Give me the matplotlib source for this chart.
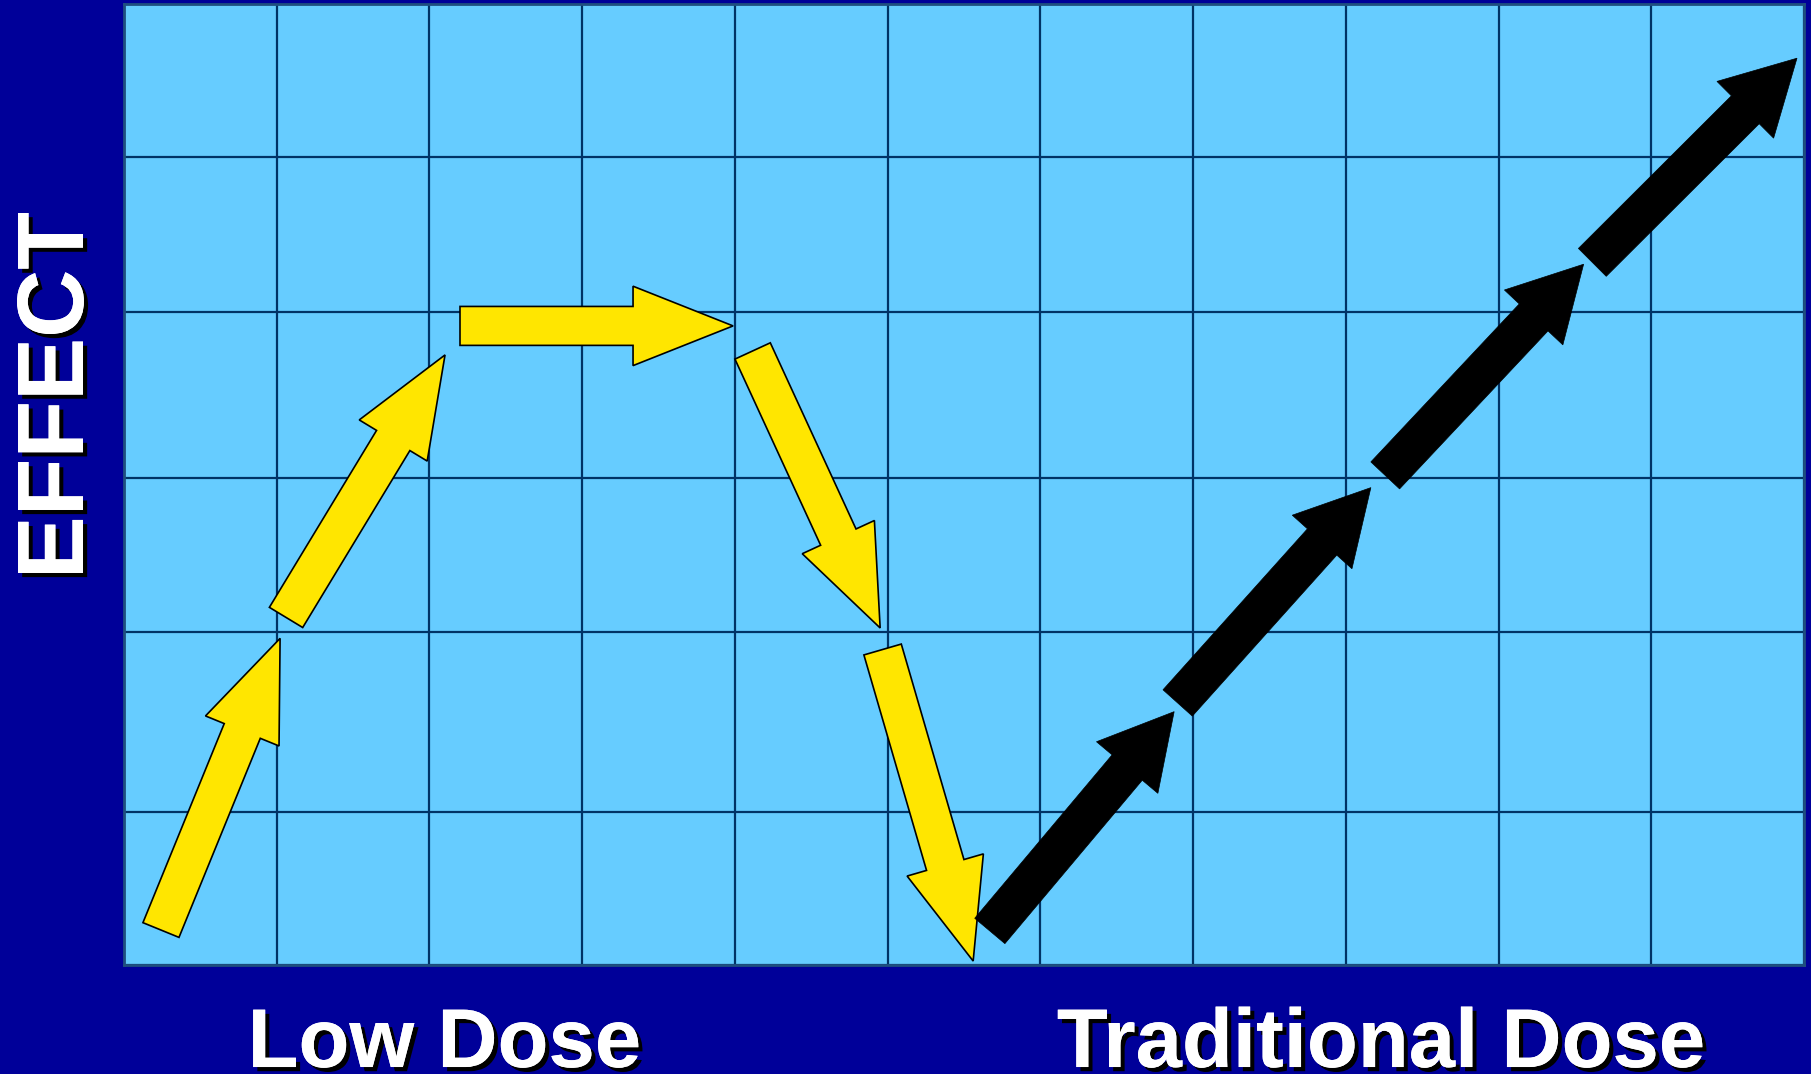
import matplotlib.pyplot as plt
from matplotlib import patheffects
from matplotlib.patches import FancyArrow

# grid (x in columns, y in the same unit)
grid_x = list(range(12))
grid_y = [0, 1.002, 2.181, 3.189, 4.276, 5.291, 6.293]

# low dose arrows (yellow): tail -> tip
low_x0 = [0.242, 1.061, 2.200, 4.116, 4.967]
low_y0 = [0.229, 2.276, 4.185, 4.021, 2.066]
low_x1 = [1.022, 2.102, 3.988, 4.951, 5.560]
low_y1 = [2.139, 3.995, 4.185, 2.207, 0.026]

# traditional dose arrows (black): tail -> tip
trad_x0 = [5.669, 6.899, 8.258, 9.614]
trad_y0 = [0.223, 1.716, 3.206, 4.601]
trad_x1 = [6.876, 8.164, 9.557, 10.954]
trad_y1 = [1.659, 3.126, 4.589, 5.938]

navy = "#000099"
shadow = [patheffects.withSimplePatchShadow(offset=(3, -3), shadow_rgbFace="black", alpha=1.0),
          patheffects.Normal()]

fig = plt.figure(figsize=(18.11, 10.74), dpi=100)
fig.patch.set_facecolor(navy)
ax = fig.add_axes([124 / 1811, 109 / 1074, 1680 / 1811, 961 / 1074])
ax.set_facecolor("#66CCFF")
ax.set_xlim(grid_x[0], grid_x[-1])
ax.set_ylim(grid_y[0], grid_y[-1])
ax.set_xticks(grid_x)
ax.set_yticks(grid_y)
ax.tick_params(length=0, labelleft=False, labelbottom=False)
ax.grid(True, color="#003366", linewidth=1.6)
ax.set_axisbelow(True)
for s in ax.spines.values():
    s.set_color("#1f4f7f")
    s.set_linewidth(2)

for x0, y0, x1, y1 in zip(low_x0, low_y0, low_x1, low_y1):
    ax.add_patch(FancyArrow(x0, y0, x1 - x0, y1 - y0, width=0.255, head_width=0.52,
                            head_length=0.655, length_includes_head=True,
                            facecolor="#FFE600", edgecolor="black", linewidth=1.2, zorder=3))

for x0, y0, x1, y1 in zip(trad_x0, trad_y0, trad_x1, trad_y1):
    ax.add_patch(FancyArrow(x0, y0, x1 - x0, y1 - y0, width=0.258, head_width=0.525,
                            head_length=0.478, length_includes_head=True,
                            facecolor="black", edgecolor="black", linewidth=0.5, zorder=4))

fig.text(83 / 1811, 0.6318, "EFFECT", rotation=90, rotation_mode="anchor",
         ha="center", va="baseline", color="white", fontsize=68,
         fontweight="bold", family="Liberation Sans", path_effects=shadow)
fig.text(0.2454, 0.0065, "Low Dose", ha="center", va="baseline", color="white",
         fontsize=60, fontweight="bold", family="Liberation Sans", path_effects=shadow)
fig.text(0.7626, 0.0065, "Traditional Dose", ha="center", va="baseline", color="white",
         fontsize=60, fontweight="bold", family="Liberation Sans", path_effects=shadow)

fig.savefig("out.png", dpi=100, facecolor=navy)
